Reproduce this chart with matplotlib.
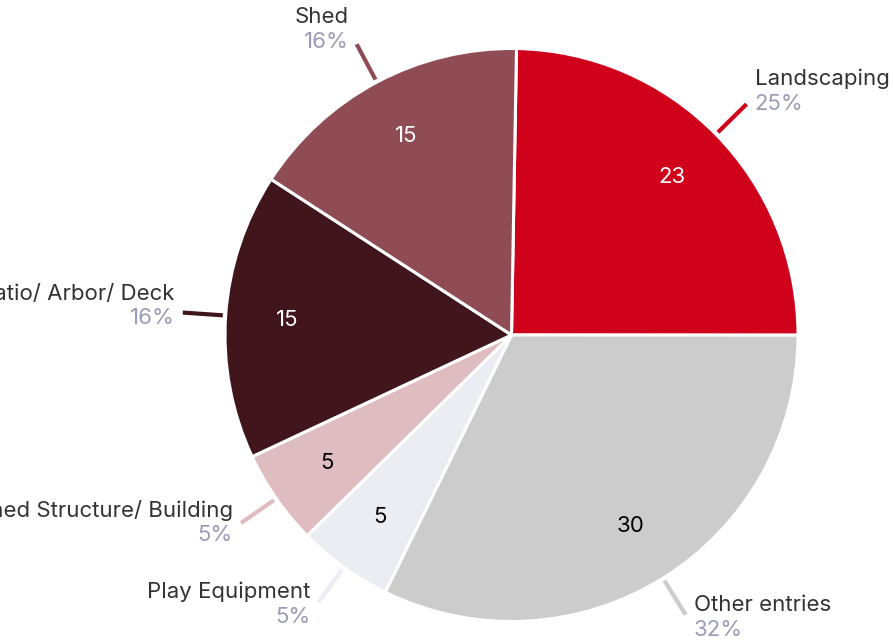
import matplotlib
matplotlib.use("Agg")
import matplotlib.pyplot as plt
import numpy as np

# project categories and entry counts
categories = ["Landscaping", "Other entries", "Play Equipment",
              "Shed Structure/ Building", "Patio/ Arbor/ Deck", "Shed"]
counts = [23, 30, 5, 5, 15, 15]
colors = ["#D0021B", "#CCCCCC", "#ECEDF3", "#DFBCC0", "#40151B", "#8F4C55"]
value_colors = ["white", "black", "black", "black", "white", "white"]

FONT = "Inter"
NAME_COLOR = "#333333"
PCT_COLOR = "#9A9CB6"
FS = 16

W, H, DPI = 893, 644, 100
CX, CY, R = 511.5, 335.0, 286.5  # pie centre / radius in pixels

fig = plt.figure(figsize=(W / DPI, H / DPI), dpi=DPI)
ax = fig.add_axes([0, 0, 1, 1])

wedges, _ = ax.pie(
    counts,
    colors=colors,
    startangle=89,
    counterclock=False,
    radius=1.0,
    wedgeprops=dict(edgecolor="white", linewidth=2.2),
)
ax.set_xlim(-CX / R, (W - CX) / R)
ax.set_ylim(-(H - CY) / R, CY / R)
ax.set_aspect("equal", adjustable="datalim")
ax.axis("off")

total = sum(counts)
px = 1.0 / R
for w, name, n, col, vcol in zip(wedges, categories, counts, colors, value_colors):
    ang = np.deg2rad((w.theta1 + w.theta2) / 2)
    ca, sa = np.cos(ang), np.sin(ang)

    # value inside the slice
    ax.text(0.785 * ca, 0.785 * sa, f"{n}", ha="center", va="center",
            color=vcol, fontsize=FS, family=FONT)

    # leader line
    ax.plot([1.01 * ca, 1.15 * ca], [1.01 * sa, 1.15 * sa],
            color=col, lw=3, solid_capstyle="butt")

    # name above, share below, lifted more for labels on the upper half
    ex, ey = 1.15 * ca, 1.15 * sa
    right = ca >= 0
    dx = 8 * px if right else -8 * px
    ha = "left" if right else "right"
    name_dy = (18 + 10 * sa) * px
    ax.text(ex + dx, ey + name_dy, name, ha=ha, va="center",
            color=NAME_COLOR, fontsize=FS, family=FONT)
    ax.text(ex + dx, ey + name_dy - 24.5 * px, f"{round(100 * n / total)}%",
            ha=ha, va="center", color=PCT_COLOR, fontsize=FS, family=FONT)

fig.savefig("out.png", dpi=DPI, facecolor="white")
